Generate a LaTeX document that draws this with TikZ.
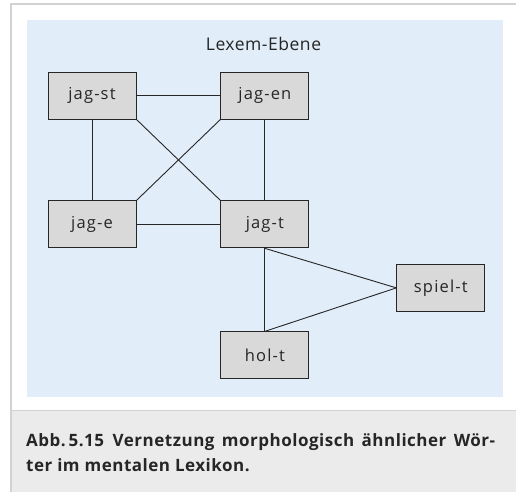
\documentclass[tikz,border=0pt]{standalone}
\usepackage{fontspec}
\setmainfont{Open Sans}
\newfontfamily\lexfont{Open Sans}[LetterSpace=7]
\newfontfamily\titlefont{Open Sans}[LetterSpace=3]
\newfontfamily\capfont{Open Sans}[LetterSpace=3]
\usepackage{tikz}
\usetikzlibrary{positioning,calc}
\definecolor{panelblue}{HTML}{E1EDF9}
\definecolor{boxgray}{HTML}{D9D9D9}
\definecolor{capgray}{HTML}{EBEBEB}
\definecolor{framegray}{HTML}{D2D2D2}
\tikzset{
  lexem/.style={draw=black!85,line width=0.9pt,fill=boxgray,
               minimum width=88pt,minimum height=47pt,inner sep=0pt,
               text=black!85,font=\lexfont\fontsize{16.5}{18}\selectfont},
  link/.style={draw=black!85,line width=0.9pt},
  capline/.style={anchor=base west,inner sep=0pt,text=black!85,
                  font=\capfont\bfseries\fontsize{17}{26}\selectfont},
}

\begin{document}
\begin{tikzpicture}[x=1pt,y=1pt]
  \useasboundingbox (0,0) rectangle (516,492);
  % frame, caption and panel
  \fill[white] (11,81) rectangle (516,488);
  \draw[framegray,line width=1.2pt] (516,488) -- (11,488) -- (11,0);
  \fill[capgray] (11.6,0) rectangle (516,81);
  \draw[framegray,line width=1pt] (11,81) -- (516,81);
  \fill[panelblue] (27,95) rectangle (503,472);
  \node[anchor=base,text=black!85,font=\titlefont\fontsize{17.5}{20}\selectfont]
    (title) at (263.5,441.3) {Lexem-Ebene};
  % lexemes
  \node[lexem] (jagst) at (92,396.5) {jag-st};
  \node[lexem,right=84pt of jagst] (jagen) {jag-en};
  \node[lexem,below=81pt of jagst] (jage) {jag-e};
  \node[lexem,right=84pt of jage] (jagt) {jag-t};
  \node[lexem,below=83pt of jagt] (holt) {hol-t};
  \node[lexem,right=87pt of jagt,yshift=-63.5pt] (spielt) {spiel-t};
  % links
  \draw[link] (jagst) -- (jagen);
  \draw[link] (jagst) -- (jage);
  \draw[link] (jagen) -- (jagt);
  \draw[link] (jage) -- (jagt);
  \draw[link] (jagst.south east) -- (jagt.north west);
  \draw[link] (jagen.south west) -- (jage.north east);
  \draw[link] (jagt) -- (holt);
  \draw[link] (jagt.south) -- (spielt.west);
  \draw[link] (holt.north) -- (spielt.west);
  % caption
  \node[capline] (cap1) at (26,45.3)
    {\makebox[469pt][s]{Abb.\,5.15\enspace Vernetzung morphologisch ähnlicher Wör-}};
  \node[capline] (cap2) at (26,20.3) {ter im mentalen Lexikon.};
\end{tikzpicture}
\end{document}
